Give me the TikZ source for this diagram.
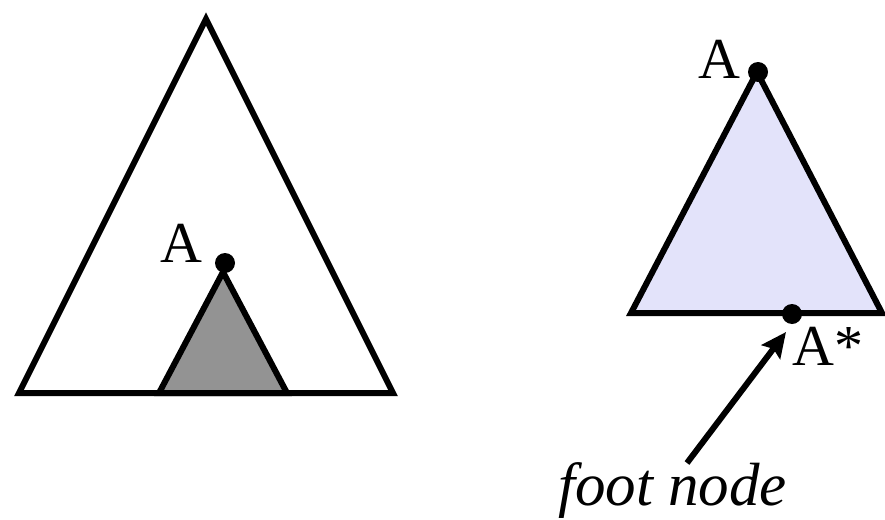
\documentclass[tikz,border=0pt]{standalone}
\usepackage{fontspec}
\setmainfont{Liberation Serif}
\usetikzlibrary{arrows.meta}
\definecolor{subgray}{HTML}{939393}
\definecolor{auxfill}{HTML}{E3E3FA}
\tikzset{
  tri/.style={draw=black, line width=6pt, line join=miter},
  dotnode/.style={circle, fill=black, inner sep=0pt, minimum size=20pt},
  lbl/.style={inner sep=0pt, font=\fontsize{58}{60}\selectfont},
  footlbl/.style={inner sep=0pt, font=\fontsize{61}{63}\selectfont\itshape},
  arr/.style={line width=6pt, -{Stealth[length=25pt, width=23pt, inset=4pt]}}
}
\begin{document}
\begin{tikzpicture}[x=1pt, y=-1pt]
\useasboundingbox (0,0) rectangle (885,519);
% left: big tree with adjoined subtree
\draw[tri] (206,19) -- (393,393) -- (19,393) -- cycle;
\draw[tri, fill=subgray] (223,272) -- (287,393) -- (159,393) -- cycle;
\node[dotnode] (d1) at (225,263) {};
\node[lbl, anchor=base east] (a1) at (203,262) {A};
% right: auxiliary tree
\draw[tri, fill=auxfill] (757,72) -- (882,313) -- (631,313) -- cycle;
\node[dotnode] (d2) at (758,72) {};
\node[lbl, anchor=base east] (a2) at (741,78) {A};
\node[dotnode] (d3) at (792,314) {};
\node[lbl, anchor=base west] (a3) at (792,365) {A*};
\node[footlbl, anchor=base west] (fn) at (558,505) {foot node};
\coordinate (tail) at (687,463);
\coordinate (tip) at (786,332);
\draw[arr] (tail) -- (tip);
\end{tikzpicture}
\end{document}
